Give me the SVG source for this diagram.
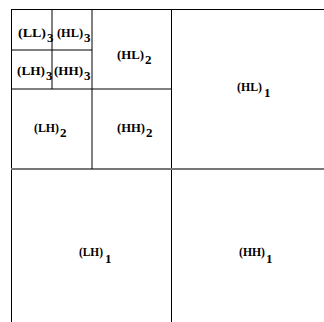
<svg xmlns="http://www.w3.org/2000/svg" width="324" height="322" viewBox="0 0 324 322">
<style>
.l{stroke:#000;stroke-width:1;fill:none}
.g{stroke:#777;stroke-width:2;fill:none}
text{font-family:"Liberation Serif","Times New Roman",serif;font-weight:bold;font-size:12.5px;fill:#000}
.s{font-size:13px}
</style>
<rect width="324" height="322" fill="#fff"/>
<g id="grid">
<line class="l" x1="11" y1="9.5" x2="324" y2="9.5"/>
<line class="l" x1="11.5" y1="9" x2="11.5" y2="322"/>
<line class="l" x1="171.5" y1="9" x2="171.5" y2="322"/>
<line class="g" x1="11" y1="169" x2="324" y2="169"/>
<line class="l" x1="92" y1="9" x2="92" y2="169"/>
<line class="l" x1="11" y1="89" x2="171" y2="89"/>
<line class="l" x1="52" y1="9" x2="52" y2="89"/>
<line class="l" x1="11" y1="50" x2="92" y2="50"/>
</g>
<g id="LL3"><text x="18" y="37" textLength="28" lengthAdjust="spacingAndGlyphs">(LL)</text><text class="s" x="47" y="42">3</text></g>
<g id="HL3"><text x="57" y="37" textLength="26" lengthAdjust="spacingAndGlyphs">(HL)</text><text class="s" x="84" y="42">3</text></g>
<g id="LH3"><text x="17" y="75" textLength="28" lengthAdjust="spacingAndGlyphs">(LH)</text><text class="s" x="46" y="80">3</text></g>
<g id="HH3"><text x="54" y="75" textLength="29" lengthAdjust="spacingAndGlyphs">(HH)</text><text class="s" x="84" y="80">3</text></g>
<g id="HL2"><text x="117" y="59" textLength="27" lengthAdjust="spacingAndGlyphs">(HL)</text><text class="s" x="145" y="64">2</text></g>
<g id="LH2"><text x="34" y="132" textLength="25" lengthAdjust="spacingAndGlyphs">(LH)</text><text class="s" x="60" y="137">2</text></g>
<g id="HH2"><text x="117" y="132" textLength="28" lengthAdjust="spacingAndGlyphs">(HH)</text><text class="s" x="146" y="137">2</text></g>
<g id="HL1"><text x="237" y="91" textLength="25" lengthAdjust="spacingAndGlyphs">(HL)</text><text class="s" x="264" y="97">1</text></g>
<g id="LH1"><text x="79" y="256" textLength="24" lengthAdjust="spacingAndGlyphs">(LH)</text><text class="s" x="105" y="263">1</text></g>
<g id="HH1"><text x="239" y="256" textLength="26" lengthAdjust="spacingAndGlyphs">(HH)</text><text class="s" x="266" y="263">1</text></g>
</svg>
